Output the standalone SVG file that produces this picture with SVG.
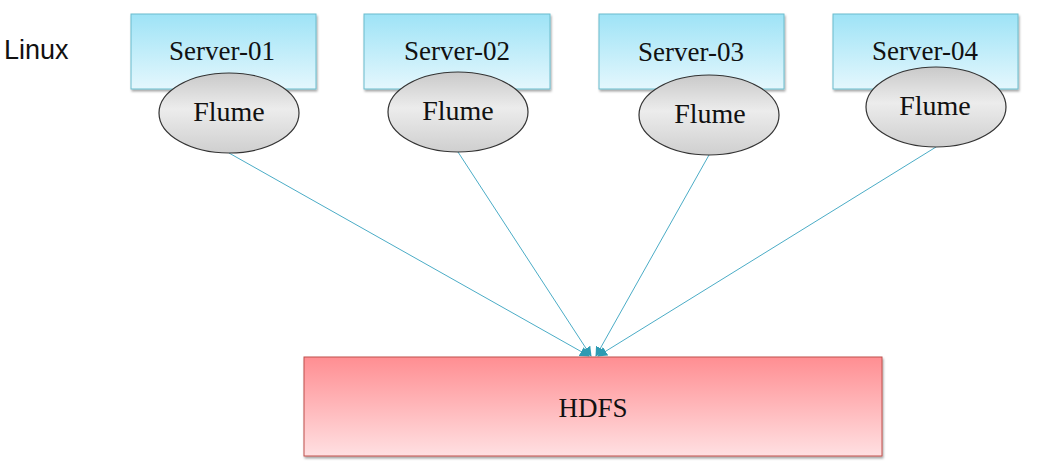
<svg xmlns="http://www.w3.org/2000/svg" width="1042" height="476" viewBox="0 0 1042 476">
<defs>
<linearGradient id="gBlue" x1="0" y1="0" x2="0" y2="1"><stop offset="0" stop-color="#9ee3f6"/><stop offset="1" stop-color="#e4f7fd"/></linearGradient>
<linearGradient id="gGray" x1="0" y1="0" x2="0" y2="1"><stop offset="0" stop-color="#c9c9c9"/><stop offset="0.45" stop-color="#ececec"/><stop offset="1" stop-color="#cfcfcf"/></linearGradient>
<linearGradient id="gRed" x1="0" y1="0" x2="0" y2="1"><stop offset="0" stop-color="#ff8e92"/><stop offset="1" stop-color="#ffe0e2"/></linearGradient>
<filter id="sh" x="-5%" y="-5%" width="110%" height="115%"><feDropShadow dx="1" dy="2" stdDeviation="1" flood-color="#000" flood-opacity="0.35"/></filter>
<marker id="arr" viewBox="0 0 10 10" refX="9" refY="5" markerWidth="10" markerHeight="10" orient="auto" markerUnits="userSpaceOnUse"><path d="M0,0 L10,5 L0,10 z" fill="#2e9bb3"/></marker>
</defs>
<style>
.srv{fill:url(#gBlue);stroke:#6bbccd;stroke-width:1;filter:url(#sh)}
.flm{fill:url(#gGray);stroke:#333;stroke-width:1.2}
.hd{fill:url(#gRed);stroke:#c0504d;stroke-width:1;filter:url(#sh)}
.t{font-family:"Liberation Serif",serif;font-size:27px;fill:#111;text-anchor:middle}
.f{font-size:28px}
.lk{stroke:#4bacc6;stroke-width:1;fill:none;marker-end:url(#arr)}
</style>
<rect width="1042" height="476" fill="#fff"/>
<text x="4" y="59" font-family="Liberation Sans, Arial, sans-serif" font-size="27" fill="#111">Linux</text>
<g id="connectors">
<line class="lk" x1="229" y1="153" x2="589" y2="356"/>
<line class="lk" x1="458" y1="152" x2="591" y2="356"/>
<line class="lk" x1="709" y1="155" x2="596" y2="356"/>
<line class="lk" x1="936" y1="147" x2="598" y2="356"/>
</g>
<g id="server-01"><rect class="srv" x="131" y="14" width="185" height="75"/><text class="t" x="222" y="60">Server-01</text></g>
<g id="server-02"><rect class="srv" x="364" y="14" width="186" height="75"/><text class="t" x="457" y="60">Server-02</text></g>
<g id="server-03"><rect class="srv" x="599" y="14" width="185" height="75"/><text class="t" x="691" y="61">Server-03</text></g>
<g id="server-04"><rect class="srv" x="833" y="14" width="185" height="75"/><text class="t" x="925" y="60">Server-04</text></g>
<g id="flume-01"><ellipse class="flm" cx="229" cy="113" rx="70" ry="40"/><text class="t f" x="229" y="121">Flume</text></g>
<g id="flume-02"><ellipse class="flm" cx="458" cy="112" rx="70" ry="40"/><text class="t f" x="458" y="120">Flume</text></g>
<g id="flume-03"><ellipse class="flm" cx="709" cy="115" rx="70" ry="40"/><text class="t f" x="710" y="123">Flume</text></g>
<g id="flume-04"><ellipse class="flm" cx="936" cy="107" rx="70" ry="40"/><text class="t f" x="935" y="115">Flume</text></g>
<g id="hdfs"><rect class="hd" x="304" y="357" width="578" height="99"/><text class="t" x="593" y="417">HDFS</text></g>
</svg>
